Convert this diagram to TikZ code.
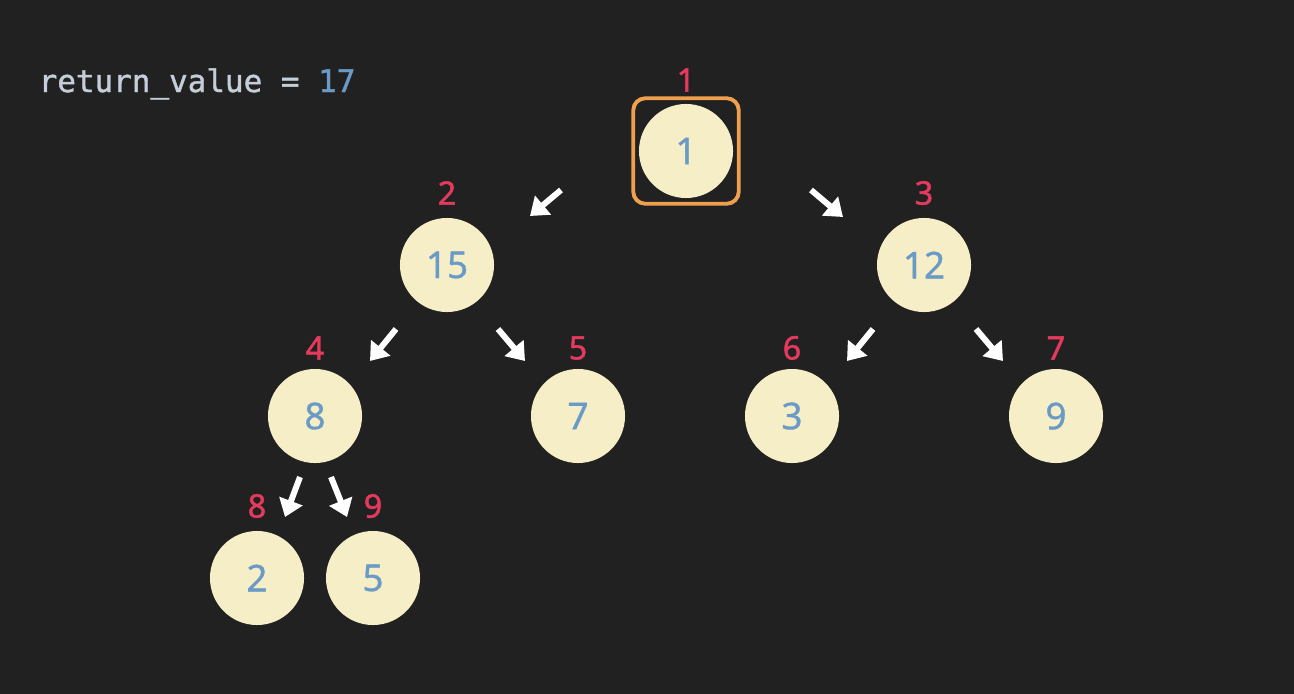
\documentclass[tikz,border=0pt]{standalone}
\usepackage{fontspec}
\setmainfont{Noto Sans}
\newfontfamily\codefont[FakeBold=1.3]{DejaVu Sans Mono}
\newfontfamily\numfont[FakeBold=0.8]{Noto Sans}
\newfontfamily\idxfont[FakeBold=1.4]{Noto Sans}
\usepackage{xcolor}
\usetikzlibrary{arrows.meta,positioning,fit}

\definecolor{bgdark}{HTML}{212121}
\definecolor{nodefill}{HTML}{F6EEC6}
\definecolor{valblue}{HTML}{6A9AC6}
\definecolor{idxred}{HTML}{E53A5E}
\definecolor{codegray}{HTML}{C5CDD8}
\definecolor{selorange}{HTML}{EFA04E}

\tikzset{
  heapnode/.style={circle, fill=nodefill, minimum size=0.94cm, inner sep=0pt,
    text=valblue, font=\numfont\fontsize{10.5}{12}\selectfont},
  idxlabel/.style={text=idxred, inner sep=0pt, font=\idxfont\fontsize{9.2}{10}\selectfont},
  ptr/.style={draw=white, line width=1.7pt, -{Triangle[length=0.17cm,width=0.24cm]}},
  selbox/.style={draw=selorange, line width=1.1pt, rounded corners=0.12cm, inner sep=0.05cm}
}

\begin{document}
\begin{tikzpicture}[x=0.01cm, y=-0.01cm]
    \fill[bgdark] (0,0) rectangle (1294,694);
    \useasboundingbox (0,0) rectangle (1294,694);
    \node[anchor=base west, inner sep=0pt, text=codegray, font=\codefont\fontsize{8.8}{10}\selectfont]
      (retval) at (38,92) {return\_value = \textcolor{valblue}{17}};
    % heap in array order: name/value/index/x/y
    \foreach \name/\val/\idx/\x/\y/\ly in {n1/1/1/686/151/80, n2/15/2/447/265/193, n3/12/3/924/265/193,
      n4/8/4/315/416/348, n5/7/5/578/416/348, n6/3/6/792/416/348, n7/9/7/1056/416/348,
      n8/2/8/257/578/506, n9/5/9/373/578/506}{
      \node[heapnode] (\name) at (\x,\y) {\val};
      \node[idxlabel] (l\name) at (\x,\ly) {\idx};
    }
    \node[selbox, fit=(n1)] (cur) {};
    % pointer arrows between levels
    \foreach \i/\sx/\sy/\ex/\ey in {1/561/190/530/216, 2/811/190/843/217, 3/396/329/370/361, 4/498/329/525/361,
      5/873/329/847/361, 6/976/329/1003/361, 7/300/477/285/517, 8/331/477/347/517}{
      \coordinate (as\i) at (\sx,\sy);
      \coordinate (ae\i) at (\ex,\ey);
      \draw[ptr] (as\i) -- (ae\i);
    }
\end{tikzpicture}
\end{document}
